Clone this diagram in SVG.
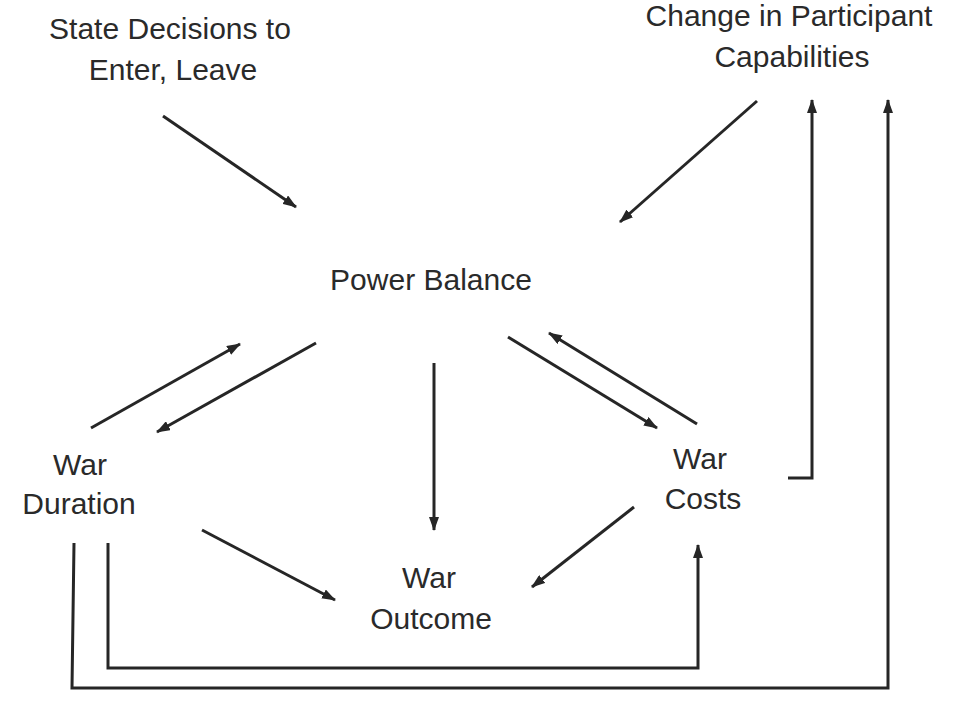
<svg xmlns="http://www.w3.org/2000/svg" width="958" height="708" viewBox="0 0 958 708">
<style>
text{font-family:"Liberation Sans",Arial,sans-serif;font-size:30px;fill:#2a2a2a;text-anchor:middle}
.c{fill:none;stroke:#262626;stroke-width:3;stroke-linejoin:miter}
</style>
<defs>
<marker id="ah" viewBox="0 0 14 10" refX="13" refY="5" markerWidth="14" markerHeight="10" markerUnits="userSpaceOnUse" orient="auto">
<path d="M0,0 L14,5 L0,10 z" fill="#262626"/>
</marker>
</defs>
<rect width="958" height="708" fill="#fff"/>
<g id="state-decisions"><text x="170" y="39">State Decisions to</text><text x="173" y="80">Enter, Leave</text></g>
<g id="change-capabilities"><text x="789" y="26">Change in Participant</text><text x="792" y="67">Capabilities</text></g>
<g id="power-balance"><text x="431" y="290">Power Balance</text></g>
<g id="war-duration"><text x="80" y="475">War</text><text x="79" y="514">Duration</text></g>
<g id="war-costs"><text x="700" y="469">War</text><text x="703" y="509">Costs</text></g>
<g id="war-outcome"><text x="429" y="588">War</text><text x="431" y="629">Outcome</text></g>
<g id="connectors">
<line class="c" x1="163" y1="116" x2="296" y2="207" marker-end="url(#ah)"/>
<line class="c" x1="757" y1="101" x2="620" y2="222" marker-end="url(#ah)"/>
<polyline class="c" points="788,478 812,478 812,100" marker-end="url(#ah)"/>
<polyline class="c" points="74,543 72,688 888,688 888,100" marker-end="url(#ah)"/>
<polyline class="c" points="108,543 108,668 698,668 698,545" marker-end="url(#ah)"/>
<line class="c" x1="434" y1="363" x2="434" y2="530" marker-end="url(#ah)"/>
<line class="c" x1="91" y1="428" x2="240" y2="344" marker-end="url(#ah)"/>
<line class="c" x1="316" y1="343" x2="157" y2="432" marker-end="url(#ah)"/>
<line class="c" x1="508" y1="337" x2="657" y2="428" marker-end="url(#ah)"/>
<line class="c" x1="697" y1="424" x2="549" y2="333" marker-end="url(#ah)"/>
<line class="c" x1="202" y1="530" x2="335" y2="600" marker-end="url(#ah)"/>
<line class="c" x1="634" y1="507" x2="532" y2="587" marker-end="url(#ah)"/>
</g>
</svg>
